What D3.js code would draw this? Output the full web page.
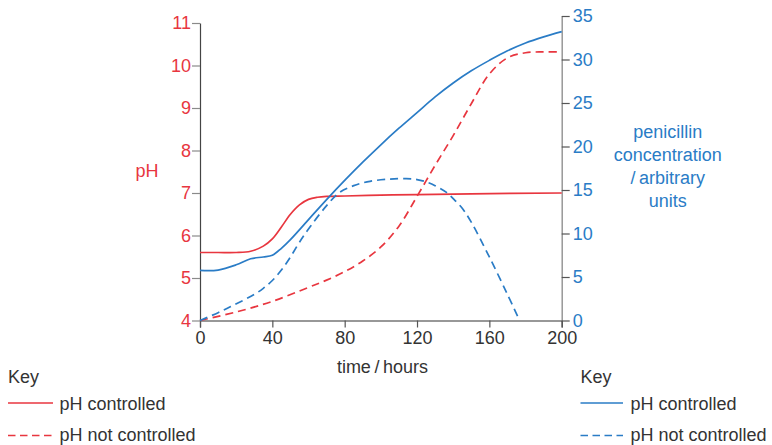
<!DOCTYPE html>
<html><head><meta charset="utf-8">
<script src="https://cdn.jsdelivr.net/npm/d3@7"></script>
<style>
html,body{margin:0;padding:0;background:#fff;}
text{font-family:"Liberation Sans",Arial,sans-serif;}
</style></head>
<body><svg id="c" width="772" height="445"></svg>
<script>
// ---- data ----
const phTicks = [4,5,6,7,8,9,10,11];
const penTicks = [0,5,10,15,20,25,30,35];
const timeTicks = [0,40,80,120,160,200];

// pH controlled: pH (left axis)
const phCtrlTime = [0,10,20,28,35,40,45,50,55,60,65,70,80,100,120,150,200];
const phCtrlPH   = [5.6,5.6,5.6,5.63,5.75,5.92,6.2,6.5,6.72,6.85,6.9,6.92,6.93,6.95,6.96,6.98,7.0];

// pH not controlled: pH (left axis)
const phFreeTime = [0,20,40,60,70,80,90,100,110,120,130,140,150,160,170,180,190,200];
const phFreePH   = [4.0,4.2,4.45,4.78,4.95,5.15,5.4,5.73,6.22,6.92,7.65,8.35,9.1,9.8,10.18,10.3,10.32,10.32];

// pH controlled: penicillin (right axis)
const penCtrlTime = [0,10,20,28,35,40,45,50,60,70,80,90,100,110,120,130,140,150,160,170,180,190,200];
const penCtrlVal  = [5.76,5.8,6.4,7.1,7.3,7.5,8.3,9.3,11.6,13.9,16.1,18.2,20.2,22.1,23.9,25.7,27.3,28.7,29.9,31.0,31.9,32.6,33.2];

// pH not controlled: penicillin (right axis)
const penFreeTime = [0,10,17,30,35,40,45,50,55,61,70,77,85,94,105,114,120,125.5,130,136.5,140,145,150,160,170,176.7];
const penFreeVal  = [0,0.9,1.6,3.0,3.7,4.6,5.8,7.3,9.0,10.8,13.2,14.7,15.5,16.0,16.25,16.3,16.2,15.9,15.5,14.7,14.0,12.9,11.3,7.3,3.0,0];

const RED = "#e8363f", BLUE = "#2a7cc6", TXT = "#333";

const svg = d3.select("#c");
const x = d3.scaleLinear().domain([0,200]).range([200,561.7]);
const yPH = d3.scaleLinear().domain([4,11]).range([320.5,23]);
const yPen = d3.scaleLinear().domain([0,35]).range([320.5,16]);

// axes
const gx = svg.append("g").attr("transform","translate(0,320.5)")
  .call(d3.axisBottom(x).tickValues(timeTicks).tickFormat(d3.format("d")).tickSize(7).tickPadding(4));
gx.select(".domain").attr("stroke","#333").attr("stroke-width",1.2);
gx.selectAll(".tick line").attr("stroke","#555").attr("stroke-width",1.2);
gx.selectAll(".tick text").attr("fill",TXT).style("font-size","18px");

const gl = svg.append("g").attr("transform","translate(200,0)")
  .call(d3.axisLeft(yPH).tickValues(phTicks).tickFormat(d3.format("d")).tickSize(8).tickPadding(1).tickSizeOuter(0));
gl.select(".domain").attr("stroke","#444").attr("stroke-width",1.2);
gl.selectAll(".tick line").attr("stroke","#8a8a8a").attr("stroke-width",1.2);
gl.selectAll(".tick text").attr("fill",RED).style("font-size","18px");

const gr = svg.append("g").attr("transform","translate(561.7,0)")
  .call(d3.axisRight(yPen).tickValues(penTicks).tickFormat(d3.format("d")).tickSize(8).tickPadding(3).tickSizeOuter(0));
gr.select(".domain").attr("stroke","#909090").attr("stroke-width",1.4);
gr.selectAll(".tick line").attr("stroke","#555").attr("stroke-width",1.2);
gr.selectAll(".tick text").attr("fill",BLUE).style("font-size","18px");

// curves
function drawLine(ts, vs, y, color, dashed){
  const pts = ts.map((t,i)=>[t,vs[i]]);
  const line = d3.line().x(d=>x(d[0])).y(d=>y(d[1])).curve(d3.curveCatmullRom.alpha(0.5));
  svg.append("path").datum(pts).attr("d",line)
    .attr("fill","none").attr("stroke",color).attr("stroke-width",1.7)
    .attr("stroke-dasharray", dashed ? "8,5" : null);
}
drawLine(phCtrlTime, phCtrlPH, yPH, RED, false);
drawLine(phFreeTime, phFreePH, yPH, RED, true);
drawLine(penCtrlTime, penCtrlVal, yPen, BLUE, false);
drawLine(penFreeTime, penFreeVal, yPen, BLUE, true);

// axis labels
svg.append("text").attr("x",147).attr("y",177.3).attr("text-anchor","middle")
  .attr("fill",RED).style("font-size","18px").text("pH");
svg.append("text").attr("x",382.5).attr("y",372.7).attr("text-anchor","middle")
  .attr("fill",TXT).style("font-size","18px").text("time\u2009/\u2009hours");
const penLines = ["penicillin","concentration","/\u2009arbitrary","units"];
svg.append("g").selectAll("text").data(penLines).join("text")
  .attr("x",667.7).attr("y",(d,i)=>138+i*23.1).attr("text-anchor","middle")
  .attr("fill",BLUE).style("font-size","18px").text(d=>d);

// legends
function legend(x0, lineX1, textX, color){
  svg.append("text").attr("x",x0).attr("y",383.3).attr("fill",TXT).style("font-size","18px").text("Key");
  svg.append("line").attr("x1",x0).attr("x2",lineX1).attr("y1",403).attr("y2",403)
    .attr("stroke",color).attr("stroke-width",1.7);
  svg.append("text").attr("x",textX).attr("y",410.3).attr("fill",TXT).style("font-size","18px").text("pH controlled");
  svg.append("line").attr("x1",x0).attr("x2",lineX1).attr("y1",435.5).attr("y2",435.5)
    .attr("stroke",color).attr("stroke-width",1.7).attr("stroke-dasharray","7.5,4.5");
  svg.append("text").attr("x",textX).attr("y",441.3).attr("fill",TXT).style("font-size","18px").text("pH not controlled");
}
legend(8, 53, 59.5, RED);
legend(580.5, 623, 630.5, BLUE);
</script></body></html>
